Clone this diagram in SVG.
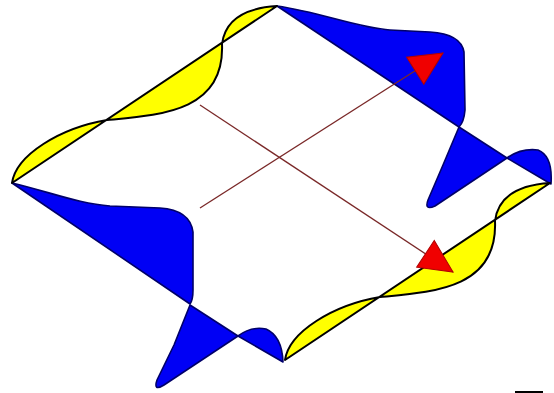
<svg xmlns="http://www.w3.org/2000/svg" xmlns:xlink="http://www.w3.org/1999/xlink" width="554" height="393" viewBox="0 0 554 393">
<style>
.blue{fill:#0000f5;stroke:#00006a;stroke-width:1.6;stroke-linejoin:round}
.yel{fill:#ffff00;stroke:#000;stroke-width:2;stroke-linejoin:round}
.arr{fill:none;stroke:#7a2828;stroke-width:1.3}
</style>
<defs>
<marker id="ah" markerUnits="userSpaceOnUse" markerWidth="40" markerHeight="40" viewBox="-36 -20 40 40" refX="0" refY="0" orient="auto">
<path d="M0,0 L-33,-16 L-33,16 Z" fill="#f00000" stroke="#b00000" stroke-width="1"/>
</marker>
<path id="yedge" d="M12,183 C16,155 60,128 107,120 C160,115 225,112 222,44 C225,20 245,8 277,6 L12,183 Z"/>
</defs>
<rect width="554" height="393" fill="#fff"/>
<g id="blue-top-right">
<path class="blue" d="M277,6 C320,12 358,28 390,30 L430,32 Q461,34 464,52 L465,110 Q464,122 459,127 Z"/>
</g>
<g id="blue-right">
<path class="blue" d="M459,127 L443,165 L428,200 Q424,211 435,206 L507,158 Z"/>
<path class="blue" d="M507,158 Q521,148 538,150 Q553,156 551,184 Z"/>
</g>
<g id="blue-left">
<path class="blue" d="M12,183 C50,192 80,204 110,206 L160,208 Q190,210 193,232 L193,290 Q193,300 190,304 Z"/>
</g>
<g id="blue-bottom">
<path class="blue" d="M190,305 L174,345 L157,380 Q153,392 164,385 L238,336 Z"/>
<path class="blue" d="M238,336 Q251,326 266,329 Q282,336 283,362 Z"/>
</g>
<g id="yellow-top-left">
<use xlink:href="#yedge" class="yel"/>
</g>
<g id="yellow-bottom-right">
<use xlink:href="#yedge" class="yel" transform="translate(273,177)"/>
</g>
<g id="connectors">
<line class="arr" x1="200" y1="208" x2="443" y2="53" marker-end="url(#ah)"/>
<line class="arr" x1="200" y1="105" x2="453" y2="272" marker-end="url(#ah)"/>
</g>
<rect x="515" y="391" width="28" height="2" fill="#000"/>
</svg>
